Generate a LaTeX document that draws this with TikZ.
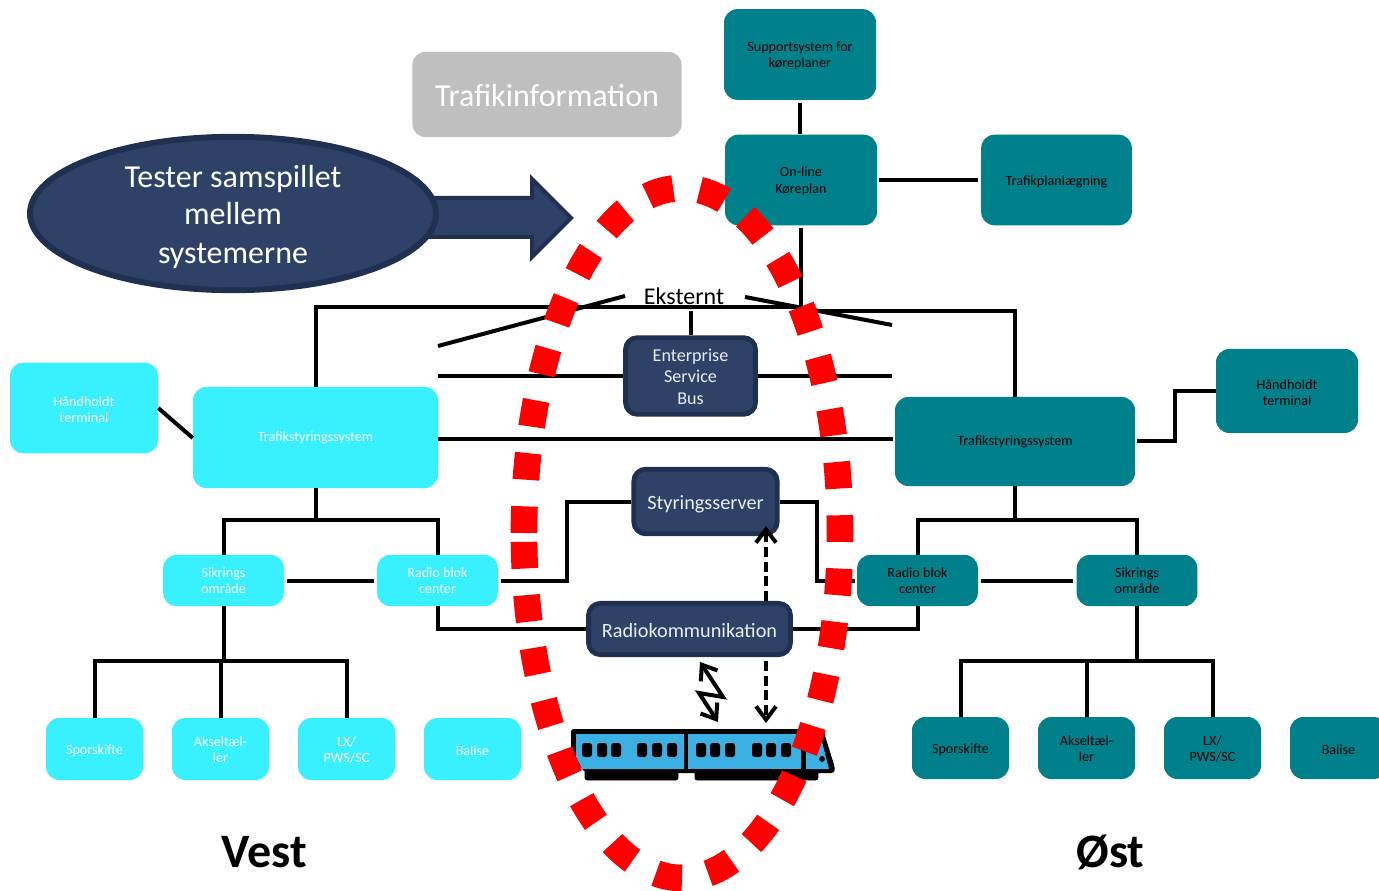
\documentclass[tikz,border=0pt]{standalone}
\usepackage{fontspec}
\setmainfont{Carlito}
\usetikzlibrary{arrows.meta,shapes.geometric,calc}
\definecolor{tealbox}{HTML}{00808B}
\definecolor{cyanbox}{HTML}{38F0FF}
\definecolor{navybox}{HTML}{2E4268}
\definecolor{navyline}{HTML}{1F3050}
\definecolor{greybox}{HTML}{BFBFBF}
\definecolor{trainblue}{HTML}{3DB0E3}
\newcommand{\low}[2]{\raisebox{-#1}[\height][\depth]{#2}}
\tikzset{
  base/.style={rectangle, rounded corners=10pt, inner sep=0pt, align=center,
    font=\fontsize{10.6}{12}\selectfont},
  teal/.style={base, fill=tealbox, text=black},
  cyan/.style={base, fill=cyanbox, text=white},
  navy/.style={base, rounded corners=9pt, draw=navyline, line width=3.6pt, fill=navybox,
    text=white!90!navybox, font=\fontsize{15.2}{16.2}\selectfont},
  big/.style={minimum width=113pt, minimum height=68pt},
  center/.style={minimum width=90.5pt, minimum height=38.5pt},
  field/.style={minimum width=72.75pt, minimum height=46.5pt},
  link/.style={line width=3pt, line join=miter},
  barbtip/.tip={Straight Barb[length=10pt,width=15pt,line width=3pt]},
  barb/.style={link, dash pattern=on 7.5pt off 3.5pt, -barbtip},
}
\begin{document}
\begin{tikzpicture}[x=0.75pt, y=-0.75pt]
  \useasboundingbox (0,0) rectangle (1379,891);
  % Nodes
  \node (SUPPORT) [teal, big, minimum width=114pt] at (800,54.5) {\low{0.8pt}{Supportsystem for}\\\low{0.8pt}{køreplaner}};
  \node (ONLINE) [teal, big, minimum width=114pt] at (801,180) {\low{0.8pt}{On-line}\\\low{1.2pt}{Køreplan}};
  \node (PLAN) [teal, big] at (1056.5,180) {\low{1.3pt}{Trafikplanlægning}};
  \node (HT-O) [teal, big, minimum width=106.5pt, minimum height=63pt] at (1287,391) {\low{0.8pt}{Håndholdt}\\\low{0.8pt}{terminal}};
  \node (TS-O) [teal, minimum width=180pt, minimum height=66.75pt] at (1015,441.5) {\low{0.6pt}{Trafikstyringssystem}};
  \node (RB-O) [teal, center] at (917.5,580.5) {Radio blok\\center};
  \node (SO-O) [teal, center] at (1137,580.5) {Sikrings\\område};
  \node (SP-O) [teal, field] at (960.5,748) {\low{1.3pt}{Sporskifte}};
  \node (AK-O) [teal, field] at (1086.5,748) {\low{0.8pt}{Akseltæl-}\\\low{0.8pt}{ler}};
  \node (LX-O) [teal, field] at (1212.5,748) {\low{0.8pt}{LX/}\\\low{0.8pt}{PWS/SC}};
  \node (BA-O) [teal, field] at (1338.5,748) {\low{1pt}{Balise}};
  \node (HT-V) [cyan, big, minimum width=111pt] at (84,408) {\low{0.8pt}{Håndholdt}\\\low{0.8pt}{terminal}};
  \node (TS-V) [cyan, minimum width=183.75pt, minimum height=75.75pt] at (315.5,437.5) {\low{0.6pt}{Trafikstyringssystem}};
  \node (SO-V) [cyan, center] at (223.5,580.5) {Sikrings\\område};
  \node (RB-V) [cyan, center] at (437.5,580.5) {Radio blok\\center};
  \node (SP-V) [cyan, field] at (94.5,749) {\low{1.3pt}{Sporskifte}};
  \node (AK-V) [cyan, field] at (220.5,749) {\low{0.8pt}{Akseltæl-}\\\low{0.8pt}{ler}};
  \node (LX-V) [cyan, field] at (346.5,749) {\low{0.8pt}{LX/}\\\low{0.8pt}{PWS/SC}};
  \node (BA-V) [cyan, field] at (472.5,749) {\low{1pt}{Balise}};
  \node (INFO) [base, fill=greybox, text=white, minimum width=202pt, minimum height=64pt,
    font=\fontsize{24}{28}\selectfont] at (547,94.5) {\low{1pt}{Trafikinformation}};
  % Big arrow
  \draw[draw=navyline, line width=3pt, fill=navybox, line join=miter]
    (430,198) -- (532,198) -- (532,179) -- (571,218) -- (532,257) -- (532,237) -- (430,237) -- cycle;
  \node (TESTER) [ellipse, draw=navyline, line width=4.5pt, fill=navybox, text=white, align=center,
    inner sep=0pt, minimum width=304.5pt, minimum height=115pt,
    font=\fontsize{24}{28.8}\selectfont] at (233,213.5)
    {\low{2.6pt}{Tester samspillet}\\\low{2.2pt}{mellem}\\\low{2.2pt}{systemerne}};
  \node (ESB) [navy, font=\fontsize{13.6}{16.2}\selectfont, minimum width=97.5pt, minimum height=57.5pt] at (690.5,376) {\low{0.7pt}{Enterprise}\\Service\\\low{0.7pt}{Bus}};
  \node (SERVER) [navy, minimum width=107.5pt, minimum height=48.5pt] at (705.5,501.5) {\low{2.2pt}{Styringsserver}};
  \node (RADIO) [navy, minimum width=151.5pt, minimum height=38.5pt] at (689.5,629) {\low{0.8pt}{Radiokommunikation}};
  \node (EKSTERNT) [font=\fontsize{18}{20}\selectfont, text=black] at (684,296.5) {Eksternt};
  \node (VEST) [font=\fontsize{36}{38}\selectfont\bfseries, text=black] at (264,852) {Vest};
  \node (OST) [font=\fontsize{36}{38}\selectfont\bfseries, text=black] at (1110.5,852) {Øst};
  % Junctions
  \coordinate (BUS-V) at (800,307);
  \coordinate (BUS-O) at (800,311);
  \coordinate (DIAG-A) at (438,346);
  \coordinate (DIAG-B) at (625,296);
  \coordinate (DIAG-C) at (745,297);
  \coordinate (DIAG-D) at (892,325);
  \coordinate (STEP-O) at (1175,441);
  \coordinate (BEND-V) at (567,501.5);
  \coordinate (BEND-O) at (817,501.5);
  \coordinate (TRAIN-R) at (766,723);
  \coordinate (SERVER-R) at (766,526);
  \coordinate (ZIG-A) at (700,662);
  \coordinate (ZIG-B) at (723,697);
  \coordinate (ZIG-C) at (699,693);
  \coordinate (ZIG-D) at (718,722);
  % Lines
  \draw[link] (SUPPORT.south) ++(0,3) -- (ONLINE.north -| SUPPORT.south);
  \draw[link] (ONLINE.east) ++(2,0) -- ($(PLAN.west)+(-3,0)$);
  \draw[link] (ONLINE.south) ++(0,2) -- (ONLINE.south |- BUS-V);
  \draw[link] (TS-V.north) |- (BUS-V);
  \draw[link] (BUS-O) -| (TS-O.north);
  \draw[link] (DIAG-A) -- (DIAG-B);
  \draw[link] (DIAG-C) -- (DIAG-D);
  \draw[link] (ESB.north) -- ++(0,-24);
  \draw[link] (TS-V.east |- ESB.west) -- (ESB.west);
  \draw[link] (ESB.east) -- (DIAG-D |- ESB.east);
  \draw[link] (TS-V.east |- 0,439) -- ($(TS-O.west |- 0,439)+(-2,0)$);
  \draw[link] (HT-V.east |- 0,408) -- (TS-V.west |- 0,438);
  \draw[link] (TS-O.east |- STEP-O) ++(2,0) -- (STEP-O) |- (HT-O.west);
  \draw[link] (TS-V.south) -- ++(0,32);
  \draw[link] (SO-V.north) |- (TS-V.south |- 0,520) -| (RB-V.north);
  \draw[link] (TS-O.south) -- ++(0,34);
  \draw[link] (RB-O.north) |- (TS-O.south |- 0,520) -| (SO-O.north);
  \draw[link] (SO-V.east) ++(3,0) -- ($(RB-V.west)+(-3,0)$);
  \draw[link] (RB-O.east) ++(3,0) -- ($(SO-O.west)+(-3,0)$);
  \draw[link] (SO-V.south) -- ++(0,55);
  \draw[link] (SP-V.north) |- (SO-V.south |- 0,661) -| (LX-V.north);
  \draw[link] (AK-V.north) -- (AK-V.north |- 0,661);
  \draw[link] (SO-O.south) -- ++(0,55);
  \draw[link] (SP-O.north) |- (SO-O.south |- 0,661) -| (LX-O.north);
  \draw[link] (AK-O.north) -- (AK-O.north |- 0,661);
  \draw[link] (RB-V.south) |- (RADIO.west);
  \draw[link] (RADIO.east) -| (RB-O.south);
  \draw[link] (RB-V.east) ++(3,0) -| (BEND-V) -- (SERVER.west);
  \draw[link] (SERVER.east) -- (BEND-O) |- ($(RB-O.west)+(-2,0)$);
  % Train
  \draw[black, fill=black, rounded corners=1.5pt] (585,770) rectangle (678,780);
  \draw[black, fill=black, rounded corners=1.5pt] (695,770) rectangle (818,780);
  \fill[black, rounded corners=2pt] (571,729) -- (823,729) -- (835,768) -- (834,773) -- (586,773) -- (571,757) -- cycle;
  \fill[trainblue] (576,734) -- (684,734) -- (684,769) -- (582,769) -- (576,757) -- cycle;
  \fill[trainblue] (688,734) rectangle (801,769);
  \fill[trainblue] (806,734) -- (820,734) -- (829,769) -- (806,769) -- cycle;
  \foreach \x in {587,602,616,642,657,672,701,715,730,757,771,786}
    \fill[black, rounded corners=2pt] (\x-5,743) rectangle (\x+5,757);
  \fill[black] (822,759) circle (2.2pt);
  % Arrows
  \draw[barb] (RADIO.north -| TRAIN-R) -- (SERVER-R);
  \draw[barb] (RADIO.south -| TRAIN-R) ++(0,4) -- (TRAIN-R);
  \draw[link, barbtip-barbtip] (ZIG-A) -- (ZIG-B) -- (ZIG-C) -- (ZIG-D);
  % Dashed ellipse
  \draw[red, line width=20pt, dash pattern=on 20pt off 20pt]
    (524,533) arc[start angle=180, end angle=540, x radius=158, y radius=345];
\end{tikzpicture}
\end{document}
